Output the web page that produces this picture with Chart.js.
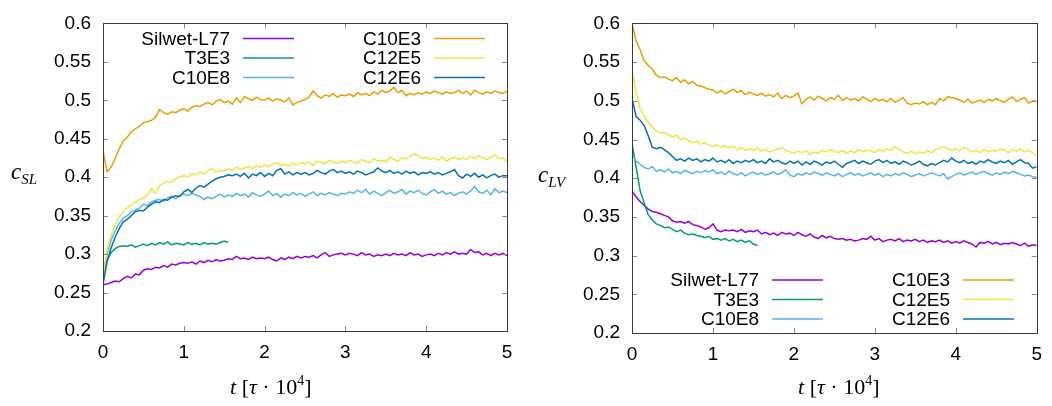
<!DOCTYPE html>
<html>
<head>
<meta charset="utf-8">
<script src="https://cdn.jsdelivr.net/npm/chart.js@4.4.1/dist/chart.umd.min.js"></script>
<style>
  html, body { margin: 0; padding: 0; background: #fff; }
  #wrap { position: relative; width: 1052px; height: 406px; overflow: hidden; }
  #wrap canvas { position: absolute; top: 0; }
  .title { position: absolute; font-family: "Liberation Serif", "DejaVu Serif", serif; color: #000; white-space: nowrap; line-height: 1; }
  .ytitle { font-size: 23px; font-style: italic; }
  .ytitle sub { font-size: 15px; vertical-align: baseline; position: relative; top: 5px; }
  .xtitle { font-size: 22px; }
  .xtitle sup { font-size: 14px; vertical-align: baseline; position: relative; top: -9px; }
</style>
</head>
<body>
<div id="wrap">
  <canvas id="panelSL" width="526" height="406" style="left:0"></canvas>
  <canvas id="panelLV" width="526" height="406" style="left:526px"></canvas>
  <div class="title ytitle" style="left:11px;top:160px">c<sub>SL</sub></div>
  <div class="title ytitle" style="left:538px;top:163px">c<sub>LV</sub></div>
  <div class="title xtitle" style="left:230px;top:376px"><i>t</i> [<i>τ</i> · 10<sup>4</sup>]</div>
  <div class="title xtitle" style="left:798px;top:376px"><i>t</i> [<i>τ</i> · 10<sup>4</sup>]</div>
</div>
<script>
// Surfactant names, in legend order (left column first, then right column)
const surfactants = ['Silwet-L77', 'T3E3', 'C10E8', 'C10E3', 'C12E5', 'C12E6'];
const lineColors = ['#9400d3', '#009e73', '#56b4e9', '#e69f00', '#f0e442', '#0072b2'];

// Axis ticks
const xTickValues = [0, 1, 2, 3, 4, 5];
const xTickLabels = ['0', '1', '2', '3', '4', '5'];
const yTickValues = [0.2, 0.25, 0.3, 0.35, 0.4, 0.45, 0.5, 0.55, 0.6];
const yTickLabels = ['0.2', '0.25', '0.3', '0.35', '0.4', '0.45', '0.5', '0.55', '0.6'];

// Sampling times, t [tau * 10^4]
const tGrid = [
  0.00, 0.05, 0.10, 0.15, 0.20, 0.25, 0.30, 0.35, 0.40, 0.45,
  0.50, 0.55, 0.60, 0.65, 0.70, 0.75, 0.80, 0.85, 0.90, 0.95,
  1.00, 1.05, 1.10, 1.15, 1.20, 1.25, 1.30, 1.35, 1.40, 1.45,
  1.50, 1.55, 1.60, 1.65, 1.70, 1.75, 1.80, 1.85, 1.90, 1.95,
  2.00, 2.05, 2.10, 2.15, 2.20, 2.25, 2.30, 2.35, 2.40, 2.45,
  2.50, 2.55, 2.60, 2.65, 2.70, 2.75, 2.80, 2.85, 2.90, 2.95,
  3.00, 3.05, 3.10, 3.15, 3.20, 3.25, 3.30, 3.35, 3.40, 3.45,
  3.50, 3.55, 3.60, 3.65, 3.70, 3.75, 3.80, 3.85, 3.90, 3.95,
  4.00, 4.05, 4.10, 4.15, 4.20, 4.25, 4.30, 4.35, 4.40, 4.45,
  4.50, 4.55, 4.60, 4.65, 4.70, 4.75, 4.80, 4.85, 4.90, 4.95,
  5.00
];

// ---- c_SL (solid-liquid) ----
const slSilwet = [
  0.260, 0.261, 0.263, 0.265, 0.264, 0.268, 0.271, 0.269, 0.274, 0.273,
  0.279, 0.281, 0.280, 0.283, 0.282, 0.285, 0.283, 0.287, 0.286, 0.288,
  0.289, 0.288, 0.290, 0.287, 0.291, 0.289, 0.292, 0.290, 0.293, 0.291,
  0.292, 0.294, 0.293, 0.297, 0.294, 0.295, 0.293, 0.296, 0.294, 0.295,
  0.294, 0.296, 0.293, 0.291, 0.295, 0.293, 0.296, 0.294, 0.297, 0.295,
  0.297, 0.296, 0.298, 0.295, 0.299, 0.302, 0.297, 0.299, 0.300, 0.301,
  0.299, 0.301, 0.300, 0.298, 0.302, 0.299, 0.300, 0.297, 0.299, 0.298,
  0.300, 0.298, 0.301, 0.299, 0.300, 0.298, 0.302, 0.299, 0.300, 0.297,
  0.299, 0.300, 0.298, 0.301, 0.299, 0.302, 0.300, 0.303, 0.300, 0.301,
  0.300, 0.306, 0.302, 0.303, 0.299, 0.301, 0.298, 0.301, 0.299, 0.301,
  0.298
];
const slT3E3 = [
  0.275, 0.292, 0.302, 0.307, 0.310, 0.311, 0.310, 0.312, 0.309, 0.311,
  0.313, 0.311, 0.314, 0.312, 0.315, 0.313, 0.316, 0.312, 0.314, 0.313,
  0.312, 0.315, 0.313, 0.314, 0.312, 0.315, 0.313, 0.314, 0.313, 0.315,
  0.317, 0.315
];
const slC10E8 = [
  0.275, 0.300, 0.318, 0.330, 0.340, 0.347, 0.350, 0.355, 0.357, 0.360,
  0.365, 0.363, 0.368, 0.370, 0.371, 0.369, 0.373, 0.375, 0.372, 0.376,
  0.378, 0.376, 0.379, 0.377, 0.375, 0.371, 0.374, 0.372, 0.375, 0.378,
  0.374, 0.377, 0.375, 0.379, 0.376, 0.378, 0.374, 0.380, 0.377, 0.375,
  0.378, 0.382, 0.376, 0.379, 0.374, 0.378, 0.376, 0.380, 0.377, 0.379,
  0.375, 0.378, 0.381, 0.376, 0.379, 0.377, 0.380, 0.378, 0.376, 0.379,
  0.378, 0.381, 0.379, 0.383, 0.380, 0.384, 0.378, 0.382, 0.379, 0.376,
  0.380, 0.383, 0.379, 0.381, 0.384, 0.378, 0.382, 0.380, 0.383, 0.379,
  0.377, 0.381, 0.384, 0.379, 0.382, 0.378, 0.380, 0.376, 0.379, 0.381,
  0.378, 0.382, 0.388, 0.381, 0.379, 0.383, 0.377, 0.385, 0.380, 0.382,
  0.380
];
const slC10E3 = [
  0.435, 0.407, 0.413, 0.424, 0.437, 0.447, 0.452, 0.459, 0.463, 0.466,
  0.471, 0.472, 0.474, 0.478, 0.488, 0.484, 0.482, 0.485, 0.484, 0.487,
  0.489, 0.486, 0.491, 0.493, 0.492, 0.495, 0.497, 0.494, 0.499, 0.501,
  0.497, 0.499, 0.495, 0.503, 0.497, 0.505, 0.502, 0.500, 0.504, 0.501,
  0.500, 0.503, 0.499, 0.502, 0.500, 0.498, 0.503, 0.494, 0.497, 0.499,
  0.501, 0.504, 0.512, 0.506, 0.503, 0.507, 0.505, 0.509, 0.504, 0.507,
  0.506, 0.508, 0.505, 0.510, 0.507, 0.509, 0.506, 0.511, 0.508, 0.513,
  0.510, 0.512, 0.517, 0.510, 0.513, 0.506, 0.509, 0.507, 0.510, 0.508,
  0.511, 0.509, 0.512, 0.510, 0.508, 0.511, 0.509, 0.510, 0.513, 0.509,
  0.512, 0.507, 0.513, 0.510, 0.508, 0.511, 0.509, 0.512, 0.510, 0.509,
  0.512
];
const slC12E5 = [
  0.270, 0.305, 0.325, 0.338, 0.349, 0.355, 0.360, 0.364, 0.368, 0.371,
  0.373, 0.377, 0.385, 0.379, 0.389, 0.392, 0.395, 0.393, 0.398, 0.400,
  0.402, 0.400, 0.405, 0.403, 0.407, 0.404, 0.409, 0.411, 0.406, 0.409,
  0.408, 0.411, 0.409, 0.413, 0.410, 0.412, 0.414, 0.411, 0.415, 0.413,
  0.416, 0.414, 0.417, 0.419, 0.415, 0.417, 0.414, 0.418, 0.416, 0.419,
  0.417, 0.420, 0.415, 0.421, 0.419, 0.418, 0.422, 0.420, 0.418, 0.421,
  0.419, 0.422, 0.420, 0.418, 0.423, 0.421, 0.419, 0.424, 0.421, 0.422,
  0.420, 0.426, 0.423, 0.421, 0.425, 0.424, 0.427, 0.430, 0.428, 0.424,
  0.426, 0.423, 0.425, 0.422, 0.426, 0.421, 0.424, 0.426, 0.423, 0.425,
  0.423, 0.427, 0.424, 0.428, 0.425, 0.423, 0.426, 0.429, 0.424, 0.425,
  0.420
];
const slC12E6 = [
  0.260, 0.290, 0.308, 0.322, 0.333, 0.342, 0.345, 0.350, 0.355, 0.357,
  0.356, 0.361, 0.365, 0.368, 0.367, 0.371, 0.370, 0.374, 0.376, 0.375,
  0.381, 0.384, 0.380, 0.386, 0.389, 0.387, 0.391, 0.395, 0.398, 0.400,
  0.401, 0.403, 0.402, 0.404, 0.401, 0.405, 0.399, 0.404, 0.402, 0.406,
  0.401, 0.405, 0.402, 0.409, 0.411, 0.404, 0.407, 0.403, 0.406, 0.404,
  0.406, 0.403, 0.405, 0.409, 0.406, 0.404, 0.408, 0.410, 0.406, 0.408,
  0.405, 0.407, 0.404, 0.408, 0.406, 0.403, 0.405, 0.407, 0.412, 0.408,
  0.406, 0.409, 0.405, 0.407, 0.404, 0.408, 0.405, 0.407, 0.403, 0.406,
  0.405, 0.407, 0.404, 0.406, 0.403, 0.405, 0.407, 0.410, 0.402, 0.399,
  0.404, 0.401, 0.405, 0.400, 0.403, 0.399, 0.402, 0.404, 0.400, 0.402,
  0.402
];

// ---- c_LV (liquid-vapour) ----
const lvSilwet = [
  0.383, 0.376, 0.370, 0.365, 0.360, 0.357, 0.356, 0.354, 0.352, 0.350,
  0.345, 0.343, 0.344, 0.342, 0.344, 0.340, 0.339, 0.337, 0.334, 0.336,
  0.341, 0.333, 0.331, 0.333, 0.332, 0.333, 0.331, 0.334, 0.330, 0.332,
  0.331, 0.333, 0.328, 0.330, 0.327, 0.329, 0.326, 0.330, 0.328, 0.329,
  0.326, 0.330, 0.327, 0.325, 0.328, 0.324, 0.322, 0.326, 0.323, 0.325,
  0.322, 0.321, 0.322, 0.320, 0.321, 0.319, 0.320, 0.322, 0.321, 0.325,
  0.320, 0.322, 0.318, 0.320, 0.321, 0.319, 0.322, 0.318, 0.320, 0.319,
  0.321, 0.318, 0.320, 0.317, 0.319, 0.318, 0.320, 0.317, 0.319, 0.316,
  0.318, 0.316, 0.319, 0.317, 0.315, 0.311, 0.317, 0.316, 0.318, 0.315,
  0.317, 0.314, 0.316, 0.315, 0.317, 0.315, 0.313, 0.316, 0.312, 0.314,
  0.313
];
const lvT3E3 = [
  0.445, 0.415, 0.384, 0.368, 0.353, 0.346, 0.341, 0.339, 0.336, 0.337,
  0.334, 0.331, 0.333, 0.329, 0.327, 0.328, 0.326, 0.325, 0.323, 0.325,
  0.321, 0.322, 0.320, 0.322, 0.319, 0.321, 0.318, 0.320, 0.317, 0.319,
  0.315, 0.313
];
const lvC10E8 = [
  0.430, 0.422, 0.418, 0.414, 0.412, 0.415, 0.409, 0.411, 0.408, 0.412,
  0.407, 0.409, 0.406, 0.410, 0.408, 0.406, 0.409, 0.407, 0.410, 0.408,
  0.411, 0.406, 0.408, 0.405, 0.409, 0.406, 0.404, 0.407, 0.403, 0.406,
  0.408, 0.405, 0.407, 0.404, 0.406, 0.408, 0.405, 0.407, 0.411, 0.404,
  0.402, 0.406, 0.404, 0.407, 0.405, 0.408, 0.406, 0.404, 0.407, 0.405,
  0.403, 0.406, 0.402, 0.405, 0.407, 0.404, 0.406, 0.403, 0.405, 0.407,
  0.404, 0.406, 0.402, 0.405, 0.403, 0.406, 0.404, 0.407, 0.405, 0.402,
  0.404, 0.406, 0.403, 0.405, 0.407, 0.405, 0.403, 0.406, 0.399, 0.402,
  0.405, 0.407, 0.404, 0.406, 0.408, 0.405, 0.407, 0.409, 0.406, 0.404,
  0.407, 0.405, 0.408, 0.406, 0.409, 0.407, 0.405, 0.403, 0.404, 0.402,
  0.401
];
const lvC10E3 = [
  0.600, 0.578, 0.566, 0.552, 0.546, 0.541, 0.533, 0.530, 0.531, 0.528,
  0.526, 0.530, 0.524, 0.527, 0.522, 0.525, 0.520, 0.519, 0.517, 0.515,
  0.514, 0.510, 0.513, 0.509, 0.512, 0.515, 0.511, 0.513, 0.508, 0.511,
  0.509, 0.507, 0.510, 0.506, 0.508, 0.505, 0.510, 0.503, 0.507, 0.504,
  0.506, 0.510, 0.496, 0.502, 0.505, 0.501, 0.506, 0.503, 0.500, 0.504,
  0.502, 0.507, 0.500, 0.504, 0.501, 0.503, 0.500, 0.505, 0.502, 0.499,
  0.503, 0.500, 0.502, 0.499, 0.503, 0.498, 0.501, 0.504, 0.497, 0.495,
  0.497, 0.496, 0.499, 0.495, 0.498, 0.495, 0.503, 0.500, 0.505, 0.504,
  0.503, 0.501, 0.498, 0.502, 0.497, 0.499, 0.501, 0.498, 0.502, 0.500,
  0.503, 0.500, 0.498, 0.502, 0.505, 0.499, 0.502, 0.504, 0.497, 0.500,
  0.499
];
const lvC12E5 = [
  0.538, 0.512, 0.490, 0.480, 0.472, 0.466, 0.461, 0.458, 0.459, 0.456,
  0.453, 0.456, 0.450, 0.452, 0.448, 0.446, 0.448, 0.444, 0.446, 0.443,
  0.441, 0.443, 0.440, 0.442, 0.439, 0.441, 0.437, 0.440, 0.436, 0.438,
  0.436, 0.439, 0.435, 0.437, 0.434, 0.436, 0.438, 0.440, 0.436, 0.434,
  0.432, 0.435, 0.433, 0.436, 0.431, 0.434, 0.432, 0.436, 0.434, 0.437,
  0.435, 0.433, 0.436, 0.432, 0.435, 0.433, 0.437, 0.434, 0.436, 0.435,
  0.433, 0.437, 0.435, 0.438, 0.436, 0.441, 0.437, 0.434, 0.432, 0.435,
  0.431, 0.434, 0.432, 0.436, 0.433, 0.437, 0.439, 0.441, 0.438, 0.436,
  0.438, 0.435, 0.440, 0.437, 0.434, 0.436, 0.433, 0.437, 0.434, 0.436,
  0.435, 0.438, 0.436, 0.433, 0.437, 0.435, 0.438, 0.434, 0.436, 0.433,
  0.429
];
const lvC12E6 = [
  0.503, 0.480, 0.475, 0.468, 0.455, 0.440, 0.438, 0.440, 0.437, 0.433,
  0.428, 0.423, 0.425, 0.422, 0.426, 0.423, 0.425, 0.421, 0.424, 0.422,
  0.426, 0.421, 0.423, 0.420, 0.424, 0.419, 0.422, 0.420, 0.423, 0.421,
  0.424, 0.420, 0.422, 0.419, 0.425, 0.421, 0.423, 0.420, 0.418, 0.422,
  0.419, 0.422, 0.417, 0.421, 0.418, 0.422, 0.420, 0.417, 0.421, 0.419,
  0.422, 0.418, 0.414, 0.419, 0.421, 0.423, 0.419, 0.422, 0.420, 0.418,
  0.422, 0.424, 0.420, 0.423, 0.419, 0.421, 0.418, 0.422, 0.420, 0.417,
  0.419, 0.422, 0.418, 0.416, 0.419, 0.417, 0.420, 0.423, 0.421, 0.426,
  0.422, 0.420, 0.423, 0.419, 0.421, 0.418, 0.422, 0.420, 0.424, 0.421,
  0.419, 0.422, 0.420, 0.423, 0.418, 0.421, 0.424, 0.420, 0.419, 0.413,
  0.415
];

const TICK_FONT = { family: '"Liberation Sans", Arial, Helvetica, sans-serif', size: 19 };

// Closed frame with inward tick marks on all four sides (gnuplot style)
const framePlugin = {
  id: 'frame',
  afterDatasetsDraw(chart) {
    const { ctx, chartArea: a, scales } = chart;
    ctx.save();
    ctx.lineWidth = 1;
    ctx.strokeStyle = '#8c8c8c';
    const len = 5;
    ctx.beginPath();
    scales.x.ticks.forEach(tk => {
      const px = Math.round(scales.x.getPixelForValue(tk.value)) + 0.5;
      ctx.moveTo(px, a.bottom); ctx.lineTo(px, a.bottom - len);
      ctx.moveTo(px, a.top); ctx.lineTo(px, a.top + len);
    });
    scales.y.ticks.forEach(tk => {
      const py = Math.round(scales.y.getPixelForValue(tk.value)) + 0.5;
      ctx.moveTo(a.left, py); ctx.lineTo(a.left + len, py);
      ctx.moveTo(a.right, py); ctx.lineTo(a.right - len, py);
    });
    ctx.stroke();
    ctx.strokeStyle = '#3a3a3a';
    ctx.strokeRect(Math.round(a.left) + 0.5, Math.round(a.top) + 0.5,
                   Math.round(a.right - a.left), Math.round(a.bottom - a.top));
    ctx.restore();
  }
};

// Two-column key drawn inside the plot area: label right-aligned, sample line after it
const keyPlugin = {
  id: 'insetKey',
  afterDraw(chart, args, opts) {
    const { ctx, chartArea: a } = chart;
    ctx.save();
    ctx.font = `${TICK_FONT.size}px ${TICK_FONT.family}`;
    ctx.textAlign = 'right';
    ctx.textBaseline = 'middle';
    chart.data.datasets.forEach((ds, i) => {
      const col = Math.floor(i / 3), row = i % 3;
      const y = (opts.anchor === 'top' ? a.top + 15 : a.bottom - 53) + row * 19.5;
      const xr = a.left + 127 + col * 191;
      ctx.fillStyle = '#000';
      ctx.fillText(ds.label, xr, y + 1);
      ctx.strokeStyle = ds.borderColor;
      ctx.lineWidth = 1.5;
      ctx.beginPath();
      ctx.moveTo(xr + 13, y);
      ctx.lineTo(xr + 64, y);
      ctx.stroke();
    });
    ctx.restore();
  }
};

function makePanel(canvasId, seriesList, box, keyAnchor) {
  const canvas = document.getElementById(canvasId);
  const W = canvas.width, H = canvas.height;
  const datasets = seriesList.map((vals, i) => ({
    label: surfactants[i],
    data: vals.map((v, k) => ({ x: tGrid[k], y: v })),
    borderColor: lineColors[i],
    borderWidth: 1.5,
    pointRadius: 0,
    tension: 0,
    fill: false,
    order: -i
  }));
  return new Chart(canvas, {
    type: 'line',
    data: { datasets },
    plugins: [framePlugin, keyPlugin],
    options: {
      responsive: false,
      animation: false,
      events: [],
      layout: { padding: { left: 0, top: box.top, right: W - box.right, bottom: 0 } },
      plugins: {
        legend: { display: false },
        tooltip: { enabled: false },
        insetKey: { anchor: keyAnchor }
      },
      scales: {
        x: {
          type: 'linear', min: 0, max: 5,
          afterBuildTicks: s => { s.ticks = xTickValues.map(v => ({ value: v })); },
          afterFit: s => { s.height = H - box.bottom; },
          grid: { display: false, drawTicks: false },
          border: { display: false },
          ticks: {
            font: TICK_FONT, color: '#000', padding: 10, maxRotation: 0,
            callback: v => xTickLabels[xTickValues.indexOf(v)]
          }
        },
        y: {
          type: 'linear', min: 0.2, max: 0.6,
          afterBuildTicks: s => { s.ticks = yTickValues.map(v => ({ value: v })); },
          afterFit: s => { s.width = box.left; },
          grid: { display: false, drawTicks: false },
          border: { display: false },
          ticks: {
            font: TICK_FONT, color: '#000', padding: 12,
            callback: v => yTickLabels[yTickValues.findIndex(t => Math.abs(t - v) < 1e-9)]
          }
        }
      }
    }
  });
}

makePanel('panelSL', [slSilwet, slT3E3, slC10E8, slC10E3, slC12E5, slC12E6],
          { left: 103, right: 507, top: 14, bottom: 331 }, 'top');
makePanel('panelLV', [lvSilwet, lvT3E3, lvC10E8, lvC10E3, lvC12E5, lvC12E6],
          { left: 106, right: 511, top: 16, bottom: 333 }, 'bottom');
</script>
</body>
</html>
